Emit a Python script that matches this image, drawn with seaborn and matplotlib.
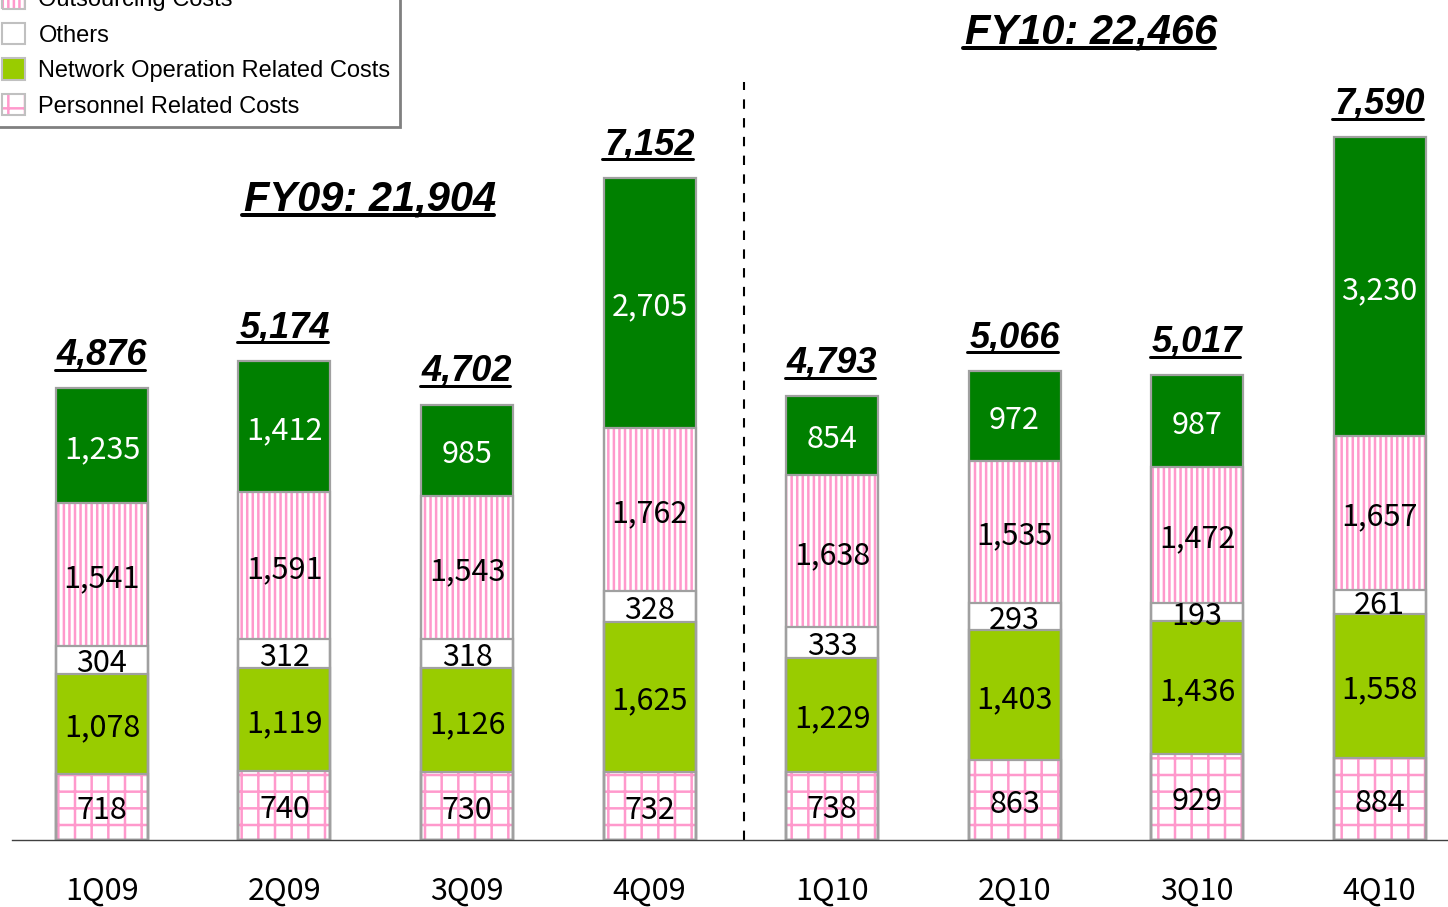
import matplotlib
matplotlib.use("Agg")
import matplotlib.pyplot as plt
import seaborn as sns
import pandas as pd
from matplotlib.patches import Patch
from matplotlib.lines import Line2D
from matplotlib.transforms import IdentityTransform

# data (units as shown)
quarters = ["1Q09", "2Q09", "3Q09", "4Q09", "1Q10", "2Q10", "3Q10", "4Q10"]
personnel = [718, 740, 730, 732, 738, 863, 929, 884]
network = [1078, 1119, 1126, 1625, 1229, 1403, 1436, 1558]
others = [304, 312, 318, 328, 333, 293, 193, 261]
outsourcing = [1541, 1591, 1543, 1762, 1638, 1535, 1472, 1657]
purchasing = [1235, 1412, 985, 2705, 854, 972, 987, 3230]
totals = [4876, 5174, 4702, 7152, 4793, 5066, 5017, 7590]
fy_labels = ["FY09: 21,904", "FY10: 22,466"]

series_names = ["Personnel Related Costs", "Network Operation Related Costs",
                "Others", "Outsourcing Costs", "Purchasing Costs"]
series_values = [personnel, network, others, outsourcing, purchasing]

# style per series, bottom to top: face, hatch, hatch colour, text colour
styles = [
    ("white", "+", "#FF99CC", "black"),
    ("#99CC00", None, None, "black"),
    ("white", None, None, "black"),
    ("white", "|||", "#FF99CC", "black"),
    ("#008000", None, None, "white"),
]

sns.set_style("white")
plt.rcParams["hatch.linewidth"] = 1.8
plt.rcParams["text.color"] = "black"
plt.rcParams["xtick.color"] = "black"
CJK = ["Noto Sans CJK JP", "DejaVu Sans"]
LAT = ["Liberation Sans", "DejaVu Sans"]

df = pd.DataFrame({"quarter": quarters})
for name, vals in zip(series_names, series_values):
    df[name] = vals
cum = df[series_names].cumsum(axis=1)
for k, name in enumerate(series_names):
    df[f"cum{k}"] = cum[name]

fig = plt.figure(figsize=(14.48, 9.07), dpi=100)
ax = fig.add_axes([12 / 1448, 67 / 907, 1436 / 1448, 840 / 907])

W = 92 / 182.5
EDGE = "#A0A0A0"

# stacked bars drawn as overlapping cumulative bars, top layer first
for k in reversed(range(len(series_names))):
    face, hatch, hcol, _ = styles[k]
    sns.barplot(data=df, x="quarter", y=f"cum{k}", color=face, saturation=1,
                hatch=hatch, edgecolor=hcol if hatch else face, linewidth=0,
                width=W, errorbar=None, ax=ax)
for k in reversed(range(len(series_names))):
    sns.barplot(data=df, x="quarter", y=f"cum{k}", fill=False, color=EDGE,
                linewidth=1.6, width=W, errorbar=None, ax=ax)

# segment labels
for k, name in enumerate(series_names):
    tcol = styles[k][3]
    for i, v in enumerate(df[name]):
        mid = df[f"cum{k}"][i] - v / 2
        ax.annotate(f"{v:,}", xy=(i, mid), xytext=(0, -3), textcoords="offset points",
                    ha="center", va="center", fontsize=22, color=tcol, family=CJK)

# totals
total_texts = []
for i, t in enumerate(totals):
    txt = ax.annotate(f"{t:,}", xy=(i, t), xytext=(0, 17), textcoords="offset points",
                      ha="center", va="baseline", fontsize=26, fontweight="bold",
                      fontstyle="italic", family=LAT, color="black")
    total_texts.append((txt, 3))

fy_pos = [(1.47, 6802), (5.42, 8605)]
for lab, (x, y) in zip(fy_labels, fy_pos):
    txt = ax.text(x, y, lab, ha="center", va="baseline", fontsize=30,
                  fontweight="bold", fontstyle="italic", family=LAT, color="black")
    total_texts.append((txt, 4))

# dashed separator between fiscal years
ax.plot([3.52, 3.52], [0, 8186], color="black", lw=1.5, dashes=(4.5, 4.5))

ax.set_xlim(-0.493, 7.375)
ax.set_ylim(0, 9071)
ax.set_xlabel("")
ax.set_ylabel("")
ax.set_yticks([])
ax.set_xticks(range(len(quarters)))
ax.set_xticklabels(quarters, fontsize=22, family=CJK, color="black")
ax.tick_params(axis="x", length=0, pad=26)
for s in ["top", "left", "right"]:
    ax.spines[s].set_visible(False)
ax.spines["bottom"].set_color("#404040")
ax.spines["bottom"].set_linewidth(1)

# legend (top part runs off the canvas as in the reference)
handles = []
for k in reversed(range(len(series_names))):
    face, hatch, hcol, _ = styles[k]
    fill = Patch(facecolor=face, hatch=hatch, edgecolor=hcol if hatch else face, linewidth=0)
    outline = Patch(facecolor="none", edgecolor="#C0C0C0", linewidth=1.5)
    handles.append((fill, outline))
leg = fig.legend(handles, list(reversed(series_names)), loc="lower right",
                 bbox_to_anchor=(400 / 1448, 1 - 127 / 907), bbox_transform=fig.transFigure,
                 borderaxespad=0, handlelength=1.0, handleheight=1.0,
                 handletextpad=0.55, labelspacing=0.5, borderpad=0.4,
                 fancybox=False, framealpha=1, prop={"family": LAT, "size": 17})
leg.get_frame().set_edgecolor("#808080")
leg.get_frame().set_linewidth(2)
for t in leg.get_texts():
    t.set_color("black")

# underline totals and fiscal year labels
fig.canvas.draw()
renderer = fig.canvas.get_renderer()
for txt, lw in total_texts:
    bb = txt.get_window_extent(renderer)
    if hasattr(txt, "xyann"):
        base = ax.transData.transform(txt.xy)[1] + 17 * fig.dpi / 72
    else:
        base = ax.transData.transform(txt.get_position())[1]
    y = base - 5
    fig.add_artist(Line2D([bb.x0 - 2, bb.x1 - 2], [y, y], color="black", lw=lw * 0.72,
                          transform=IdentityTransform()))

fig.savefig("out.png", dpi=100)
